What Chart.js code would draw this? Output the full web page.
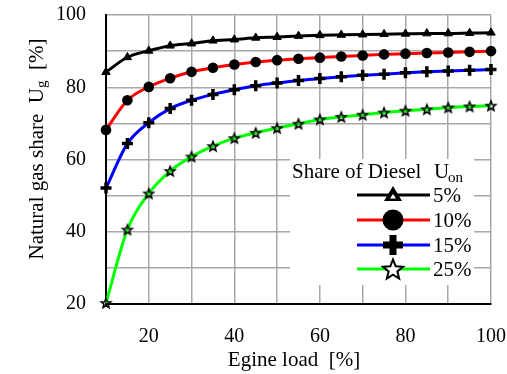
<!DOCTYPE html>
<html>
<head>
<meta charset="utf-8">
<script src="https://cdn.jsdelivr.net/npm/chart.js@4/dist/chart.umd.min.js"></script>
<style>
  html, body { margin: 0; padding: 0; background: #fff; }
  #wrap { width: 507px; height: 374px; position: relative; }
</style>
</head>
<body>
<div id="wrap"><canvas id="chart"></canvas></div>
<script>
// engine load (%) and natural gas share (%) per diesel share
const loads = [10, 15, 20, 25, 30, 35, 40, 45, 50, 55, 60, 65, 70, 75, 80, 85, 90, 95, 100];
const diesel5 = [84.2, 88.3, 90.1, 91.5, 92.1, 92.9, 93.2, 93.7, 93.9, 94.2, 94.4, 94.5, 94.6, 94.7, 94.8, 94.9, 94.9, 95.0, 95.1];
const diesel10 = [68.2, 76.4, 80.1, 82.5, 84.3, 85.4, 86.3, 87.0, 87.5, 87.9, 88.2, 88.5, 88.8, 89.1, 89.3, 89.5, 89.6, 89.8, 90.0];
const diesel15 = [52.1, 64.4, 70.2, 74.1, 76.4, 78.0, 79.3, 80.4, 81.2, 81.9, 82.4, 82.9, 83.3, 83.6, 84.0, 84.3, 84.5, 84.7, 84.9];
const diesel25 = [20.3, 40.6, 50.6, 56.8, 60.8, 63.7, 65.9, 67.4, 68.7, 69.9, 71.1, 71.8, 72.4, 73.0, 73.5, 73.9, 74.4, 74.7, 74.9];
const seriesLabels = ['5%', '10%', '15%', '25%'];
const xTicksShown = [20, 40, 60, 80, 100];
const yTicksShown = [20, 40, 60, 80, 100];

const FONT = '"Liberation Serif", "Times New Roman", serif';

function starPath(ctx, cx, cy, outer, inner) {
  ctx.beginPath();
  for (let i = 0; i < 10; i++) {
    const r = i % 2 === 0 ? outer : inner;
    const a = -Math.PI / 2 + i * Math.PI / 5;
    const px = cx + r * Math.cos(a);
    const py = cy + r * Math.sin(a);
    if (i === 0) ctx.moveTo(px, py); else ctx.lineTo(px, py);
  }
  ctx.closePath();
}

function makeStar(outer, inner, lw, fill) {
  const c = document.createElement('canvas');
  const s = Math.ceil(outer * 2 + lw * 2 + 2);
  c.width = s; c.height = s;
  const g = c.getContext('2d');
  starPath(g, s / 2, s / 2 + outer * 0.1, outer, inner);
  if (fill) { g.fillStyle = fill; g.fill(); }
  g.lineWidth = lw;
  g.strokeStyle = '#000';
  g.lineJoin = 'miter';
  g.stroke();
  return c;
}

const smallStar = makeStar(5, 2.2, 1.6, null);

function pts(arr) {
  return arr.map((v, i) => ({ x: loads[i], y: v }));
}

const datasets = [
  { label: seriesLabels[0], data: pts(diesel5), borderColor: '#000000', pointStyle: 'triangle', pointRadius: 4.8, pointBackgroundColor: '#000', pointBorderColor: '#000', pointBorderWidth: 1 },
  { label: seriesLabels[1], data: pts(diesel10), borderColor: '#ff0000', pointStyle: 'circle', pointRadius: 5.3, pointBackgroundColor: '#000', pointBorderColor: '#000', pointBorderWidth: 0 },
  { label: seriesLabels[2], data: pts(diesel15), borderColor: '#0000ff', pointStyle: 'cross', pointRadius: 5.5, pointBackgroundColor: '#000', pointBorderColor: '#000', pointBorderWidth: 3.5 },
  { label: seriesLabels[3], data: pts(diesel25), borderColor: '#00ff00', pointStyle: smallStar, pointRadius: 5 }
].map(d => Object.assign({ borderWidth: 3, fill: false, clip: false, cubicInterpolationMode: 'monotone', pointHoverRadius: 5 }, d));

// legend and axis titles (with subscripts) drawn by hand
const extras = {
  id: 'extras',
  afterDraw(chart) {
    const ctx = chart.ctx;
    ctx.save();

    // x title
    ctx.fillStyle = '#000';
    ctx.font = '21px ' + FONT;
    ctx.textAlign = 'center';
    ctx.textBaseline = 'alphabetic';
    ctx.fillText('Egine load  [%]', 294, 366);

    // y title, rotated
    ctx.save();
    ctx.translate(43, 149);
    ctx.rotate(-Math.PI / 2);
    const p1 = 'Natural gas share  U';
    const p3 = '  [%]';
    ctx.font = '21px ' + FONT;
    const w1 = ctx.measureText(p1).width;
    const w3 = ctx.measureText(p3).width;
    ctx.font = '15px ' + FONT;
    const w2 = ctx.measureText('g').width;
    let x = -(w1 + w2 + w3) / 2;
    ctx.textAlign = 'left';
    ctx.font = '21px ' + FONT;
    ctx.fillText(p1, x, 0);
    x += w1;
    ctx.font = '15px ' + FONT;
    ctx.fillText('g', x, 3);
    x += w2;
    ctx.font = '21px ' + FONT;
    ctx.fillText(p3, x, 0);
    ctx.restore();

    // legend box
    ctx.fillStyle = '#fff';
    ctx.fillRect(290, 159, 184, 126);
    ctx.fillStyle = '#000';
    ctx.textAlign = 'left';
    ctx.font = '21px ' + FONT;
    ctx.fillText('Share of Diesel', 292, 178);
    ctx.fillText('U', 434, 178);
    ctx.font = '15px ' + FONT;
    ctx.fillText('on', 448, 182);

    const rows = [195, 220, 245, 269];
    const mx = 393;
    chart.data.datasets.forEach((ds, i) => {
      const y = rows[i];
      ctx.strokeStyle = ds.borderColor;
      ctx.lineWidth = 3;
      ctx.beginPath();
      ctx.moveTo(357, y);
      ctx.lineTo(430, y);
      ctx.stroke();

      ctx.fillStyle = '#000';
      ctx.strokeStyle = '#000';
      if (i === 0) {
        ctx.beginPath();
        ctx.moveTo(mx, y - 9);
        ctx.lineTo(mx + 9, y + 6);
        ctx.lineTo(mx - 9, y + 6);
        ctx.closePath();
        ctx.fill();
        ctx.fillStyle = '#fff';
        ctx.beginPath();
        ctx.moveTo(mx, y - 1);
        ctx.lineTo(mx + 3, y + 3.5);
        ctx.lineTo(mx - 3, y + 3.5);
        ctx.closePath();
        ctx.fill();
      } else if (i === 1) {
        ctx.beginPath();
        ctx.arc(mx, y, 10.5, 0, Math.PI * 2);
        ctx.fill();
      } else if (i === 2) {
        ctx.fillRect(mx - 10, y - 3.5, 20, 7);
        ctx.fillRect(mx - 3.5, y - 10, 7, 20);
      } else {
        starPath(ctx, mx, y + 1, 10.5, 4.6);
        ctx.fillStyle = '#fff';
        ctx.fill();
        ctx.lineWidth = 2;
        ctx.stroke();
      }

      ctx.fillStyle = '#000';
      ctx.font = '21px ' + FONT;
      ctx.fillText(ds.label, 433, y + 7);
    });

    ctx.restore();
  }
};

new Chart(document.getElementById('chart'), {
  type: 'line',
  data: { datasets },
  plugins: [extras],
  options: {
    responsive: true,
    maintainAspectRatio: false,
    animation: false,
    layout: { padding: { top: 15, right: 16, left: 0, bottom: 0 } },
    plugins: {
      legend: { display: false },
      tooltip: { enabled: false }
    },
    scales: {
      x: {
        type: 'linear',
        min: 10,
        max: 100,
        afterFit: s => { s.height = 70; s.paddingLeft = 0; s.paddingRight = 0; },
        grid: { color: '#a8a8a8', lineWidth: 1.5, drawTicks: false },
        border: { color: '#000', width: 2 },
        ticks: {
          stepSize: 10,
          padding: 21,
          maxRotation: 0,
          autoSkip: false,
          color: '#000',
          font: { family: FONT, size: 20 },
          callback: v => xTicksShown.includes(v) ? String(v) : ''
        }
      },
      y: {
        min: 20,
        max: 100,
        afterFit: s => { s.width = 106; s.paddingTop = 0; s.paddingBottom = 0; },
        grid: { color: '#a8a8a8', lineWidth: 1.5, drawTicks: false },
        border: { color: '#000', width: 2 },
        ticks: {
          stepSize: 10,
          padding: 20,
          autoSkip: false,
          color: '#000',
          font: { family: FONT, size: 20 },
          callback: v => yTicksShown.includes(v) ? String(v) : ''
        }
      }
    }
  }
});
</script>
</body>
</html>
